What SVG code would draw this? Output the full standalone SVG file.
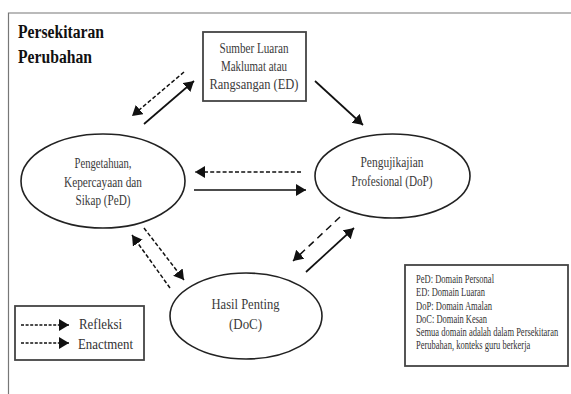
<svg xmlns="http://www.w3.org/2000/svg" width="571" height="394" viewBox="0 0 571 394">
<style>
text{font-family:"Liberation Serif","Times New Roman",serif;fill:#2a2a2a}
.n{font-size:14.500px;text-anchor:middle;fill:#3a3a3a}
.h{font-size:18px;font-weight:bold;fill:#111}
.k{font-size:15.500px;fill:#333}
.s{font-size:11.500px;fill:#333}
.shape{fill:#fff;stroke:#222;stroke-width:1.6}
.frame{fill:none;stroke:#777;stroke-width:1.2}
.box{fill:#fff;stroke:#444;stroke-width:1.8}
.a{fill:none;stroke:#111;stroke-width:1.7;marker-end:url(#ah)}
.d{stroke-dasharray:4 2.2;stroke-width:1.5}
</style>
<defs>
<marker id="ah" markerUnits="userSpaceOnUse" markerWidth="11" markerHeight="13" refX="10" refY="6" orient="auto"><path d="M0 0L10 6L0 12z" fill="#111"/></marker>
</defs>
<rect width="571" height="394" fill="#fff"/>
<path class="frame" d="M571 13H8.500V394"/>
<text class="h" x="18" y="38" textLength="86" lengthAdjust="spacingAndGlyphs">Persekitaran</text>
<text class="h" x="18" y="63" textLength="74" lengthAdjust="spacingAndGlyphs">Perubahan</text>
<g id="connectors">
<path class="a d" d="M184 72L132 116"/>
<path class="a" d="M144 124L194 81"/>
<path class="a" d="M315 81L363 125"/>
<path class="a d" d="M301 172H195"/>
<path class="a" d="M194 190H306"/>
<path class="a d" d="M144 228L184 280"/>
<path class="a d" d="M170 288L132 235"/>
<path class="a d" style="stroke-dasharray:7 5" d="M340 217L293 261"/>
<path class="a" d="M306 272L354 228"/>
</g>
<g id="node-ed">
<rect class="box" x="203" y="32" width="103" height="69"/>
<text class="n" x="254" y="53" textLength="69" lengthAdjust="spacingAndGlyphs">Sumber Luaran</text>
<text class="n" x="254" y="71" textLength="66" lengthAdjust="spacingAndGlyphs">Maklumat atau</text>
<text class="n" x="254" y="89" textLength="89" lengthAdjust="spacingAndGlyphs">Rangsangan (ED)</text>
</g>
<g id="node-ped">
<ellipse class="shape" cx="103" cy="181" rx="82" ry="47"/>
<text class="n" x="103" y="168" textLength="57" lengthAdjust="spacingAndGlyphs">Pengetahuan,</text>
<text class="n" x="103" y="187" textLength="78" lengthAdjust="spacingAndGlyphs">Kepercayaan dan</text>
<text class="n" x="103" y="205" textLength="55" lengthAdjust="spacingAndGlyphs">Sikap (PeD)</text>
</g>
<g id="node-dop">
<ellipse class="shape" cx="392.500" cy="176" rx="77.500" ry="42"/>
<text class="n" x="392" y="167" textLength="63" lengthAdjust="spacingAndGlyphs">Pengujikajian</text>
<text class="n" x="392" y="186" textLength="81" lengthAdjust="spacingAndGlyphs">Profesional (DoP)</text>
</g>
<g id="node-doc">
<ellipse class="shape" cx="246" cy="316" rx="76" ry="43"/>
<text class="n" x="245.500" y="309" textLength="68" lengthAdjust="spacingAndGlyphs" style="font-size:15.500px">Hasil Penting</text>
<text class="n" x="245.500" y="329" textLength="33" lengthAdjust="spacingAndGlyphs" style="font-size:15.500px">(DoC)</text>
</g>
<g id="legend">
<rect class="box" x="15" y="306" width="129" height="54"/>
<path class="a d" style="stroke-dasharray:3 1.6" d="M21 325H69"/>
<path class="a d" style="stroke-dasharray:3 1.6" d="M21 343H69"/>
<text class="k" x="79" y="329" textLength="43" lengthAdjust="spacingAndGlyphs">Refleksi</text>
<text class="k" x="78" y="349" textLength="55" lengthAdjust="spacingAndGlyphs">Enactment</text>
</g>
<g id="note">
<rect class="box" x="405" y="265" width="163" height="101"/>
<text class="s" x="416" y="283" textLength="78" lengthAdjust="spacingAndGlyphs">PeD: Domain Personal</text>
<text class="s" x="416" y="296" textLength="69" lengthAdjust="spacingAndGlyphs">ED: Domain Luaran</text>
<text class="s" x="416" y="310" textLength="76" lengthAdjust="spacingAndGlyphs">DoP: Domain Amalan</text>
<text class="s" x="416" y="323" textLength="71" lengthAdjust="spacingAndGlyphs">DoC: Domain Kesan</text>
<text class="s" transform="translate(416 336) scale(.74 1)">Semua domain adalah dalam Persekitaran</text>
<text class="s" transform="translate(416 349) scale(.74 1)">Perubahan, konteks guru berkerja</text>
</g>
</svg>
